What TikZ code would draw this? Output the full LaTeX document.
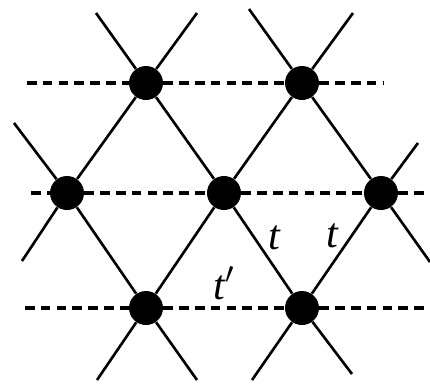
\documentclass[tikz,border=0pt]{standalone}
\usepackage{fontspec}
\setmainfont{Liberation Serif}

\begin{document}
\begin{tikzpicture}[
    x=0.02cm, y=-0.02cm,
    site/.style={circle, fill, inner sep=0pt, minimum size=0.68cm},
    bond/.style={line width=1.5pt},
    hop/.style={line width=1.9pt, dash pattern=on 5.5pt off 3.5pt},
    lbl/.style={font=\fontsize{24}{28}\selectfont\itshape, inner sep=0pt}
]
\useasboundingbox (0,0) rectangle (430,383);

% sites
\node[site] (A) at (146,83) {};
\node[site] (B) at (302,83) {};
\node[site] (C) at (67,193) {};
\node[site] (D) at (224,193) {};
\node[site] (E) at (381,193) {};
\node[site] (F) at (146,308) {};
\node[site] (G) at (302,308) {};

% free ends
\coordinate (a1) at (96,13);   \coordinate (a2) at (352,374);
\coordinate (b1) at (197,13);  \coordinate (b2) at (22,261);
\coordinate (c1) at (353,13);  \coordinate (c2) at (97,380);
\coordinate (d1) at (249,9);   \coordinate (d2) at (430,262);
\coordinate (e1) at (14,123);  \coordinate (e2) at (197,380);
\coordinate (f1) at (418,143); \coordinate (f2) at (252,380);
\coordinate (h1) at (27,83);   \coordinate (h2) at (383,83);
\coordinate (m1) at (31,193);  \coordinate (m2) at (430,193);
\coordinate (l1) at (25,308);  \coordinate (l2) at (430,308);

% bonds
\draw[bond] (a1) -- (A) -- (D) -- (G) -- (a2);
\draw[bond] (b1) -- (A) -- (C) -- (b2);
\draw[bond] (c1) -- (B) -- (D) -- (F) -- (c2);
\draw[bond] (d1) -- (B) -- (E) -- (d2);
\draw[bond] (e1) -- (C) -- (F) -- (e2);
\draw[bond] (f1) -- (E) -- (G) -- (f2);

% dashed rows
\draw[hop] (h1) -- (A) -- (B) -- (h2);
\draw[hop] (m1) -- (C) -- (D) -- (E) -- (m2);
\draw[hop] (l1) -- (F) -- (G) -- (l2);

% labels
\node[lbl] (t1) at (274,238) {t};
\node[lbl] (t2) at (332,236) {t};
\node[lbl] (t3) at (224,283) {t$'$};

\end{tikzpicture}
\end{document}
